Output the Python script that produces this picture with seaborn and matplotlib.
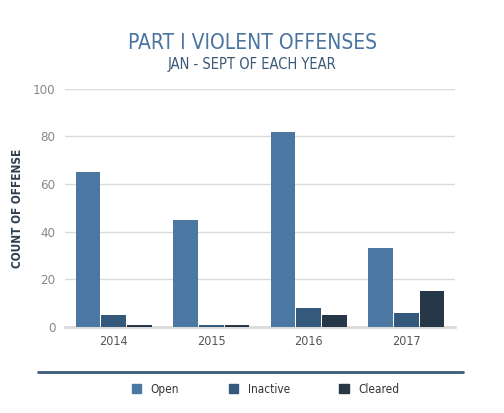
import pandas as pd
import matplotlib
matplotlib.use("Agg")
import matplotlib.pyplot as plt
import seaborn as sns

years = ["2014", "2015", "2016", "2017"]
statuses = ["Open", "Inactive", "Cleared"]
open_counts = [65, 45, 82, 33]
inactive_counts = [5, 1, 8, 6]
cleared_counts = [1, 1, 5, 15]
colors = ["#4a78a3", "#35597b", "#263848"]

df = pd.DataFrame({
    "year": years * 3,
    "status": ["Open"] * 4 + ["Inactive"] * 4 + ["Cleared"] * 4,
    "count": open_counts + inactive_counts + cleared_counts,
})

sns.set_style("white")
plt.rcParams["font.family"] = ["DejaVu Sans"]
plt.rcParams["font.stretch"] = "condensed"

fig = plt.figure(figsize=(5.04, 4.13), dpi=100)
ax = fig.add_axes([0.129, 0.208, 0.774, 0.577])

sns.barplot(data=df, x="year", y="count", hue="status", hue_order=statuses,
            palette=colors, width=0.79, gap=0.04, saturation=1, ax=ax,
            legend=False, zorder=3, linewidth=0)

ax.set_ylim(0, 100)
ax.set_xlim(-0.5, 3.5)
ax.set_yticks(range(0, 101, 20))
ax.yaxis.grid(True, color="#dadada", linewidth=1, zorder=0)
for s in ["top", "right", "left"]:
    ax.spines[s].set_visible(False)
ax.spines["bottom"].set_color("#dadada")
ax.spines["bottom"].set_linewidth(2)
ax.tick_params(axis="both", length=0, labelsize=9, colors="#555555", pad=6)
ax.tick_params(axis="y", colors="#888888", labelsize=9.5, pad=7)
ax.set_xlabel("")
ax.set_ylabel("COUNT OF OFFENSE", fontsize=8.5, fontweight="bold", color="#2d3e50", labelpad=6)

fig.text(0.5, 0.897, "PART I VIOLENT OFFENSES", ha="center", va="center",
         fontsize=15, color="#4a74a0")
fig.text(0.5, 0.845, "JAN - SEPT OF EACH YEAR", ha="center", va="center",
         fontsize=10.5, color="#3c5a78")

fig.add_artist(plt.Line2D([0.075, 0.919], [0.099, 0.099], color="#3a5a7a", linewidth=2))

handles = [plt.Rectangle((0, 0), 1, 1, color=c) for c in colors]
fig.legend(handles, statuses, loc="center", bbox_to_anchor=(0.527, 0.057), ncol=3,
           frameon=False, fontsize=8.5, handlelength=0.8, handleheight=0.8,
           columnspacing=4.2, handletextpad=0.8, labelcolor="#333333")

fig.savefig("out.png", dpi=100)
